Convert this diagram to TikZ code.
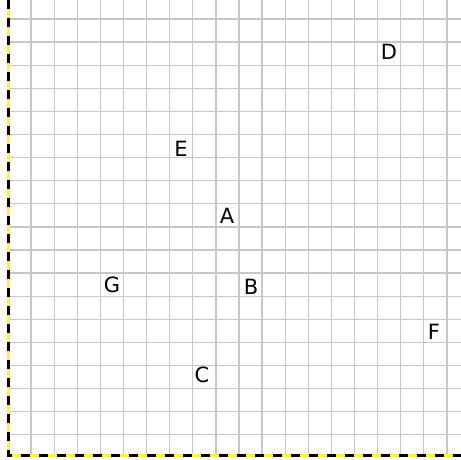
\documentclass[tikz,border=0pt]{standalone}
\usepackage{fontspec}
\setmainfont{DejaVu Sans}
\tikzset{
    gridline/.style={draw=black!22, line width=1.3pt},
    frameyellow/.style={draw=yellow!75, line width=3pt},
    frameblack/.style={draw=black, line width=3pt, dash pattern=on 9pt off 9pt},
    pointlabel/.style={font=\fontsize{21}{24}\selectfont, inner sep=0pt}
}
\begin{document}
\begin{tikzpicture}[x=1pt, y=-1pt]
        \useasboundingbox[fill=white] (0, 0) rectangle (461, 460);
        \foreach \i in {1,...,19}
            \draw[gridline] (8+23.1*\i, 0)--(8+23.1*\i, 455);
        \foreach \j in {0,...,18}
            \draw[gridline] (8, 19+23.1*\j)--(461, 19+23.1*\j);
        \draw[frameyellow] (8, 0)--(8, 455)--(461, 455);
        \draw[frameblack] (8, 0)--(8, 455)--(461, 455);
        \node[pointlabel] (D) at (389, 52) {D};
        \node[pointlabel] (E) at (181, 149) {E};
        \node[pointlabel] (A) at (227, 216) {A};
        \node[pointlabel] (G) at (112, 285) {G};
        \node[pointlabel] (B) at (251, 287) {B};
        \node[pointlabel] (F) at (434, 332) {F};
        \node[pointlabel] (C) at (202, 375) {C};
    \end{tikzpicture}
\end{document}
